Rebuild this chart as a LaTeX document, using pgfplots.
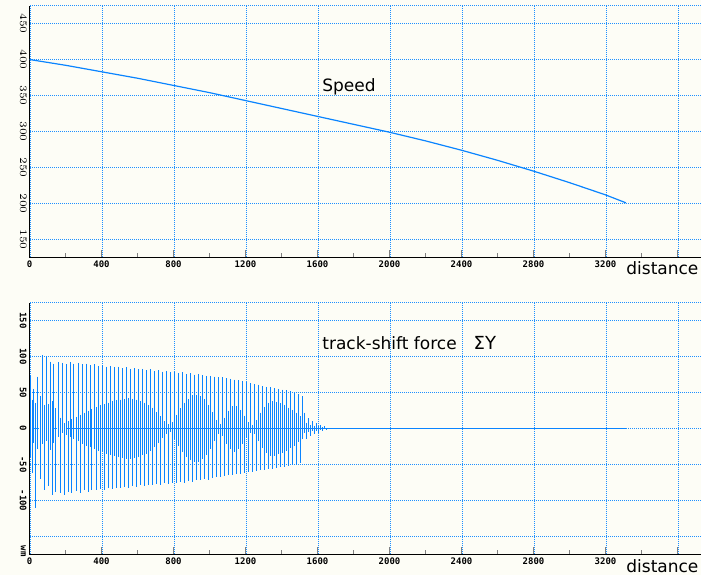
\documentclass[border=0pt]{standalone}
\usepackage{pgfplots}
\pgfplotsset{compat=1.18}
\usepackage{fontspec}
\setmainfont{DejaVu Sans}
\newfontfamily\tickfont{DejaVu Sans Mono Bold}
\definecolor{bgcol}{RGB}{253,253,246}
\definecolor{gridblue}{RGB}{30,144,255}
\definecolor{lineblue}{RGB}{10,132,255}

% 1px = 0.5pt; 400 distance = 72px, 50 units of y = 36px
\pgfplotsset{
  rail/.style={
    scale only axis, width=335.75pt, height=126pt, anchor=south west,
    xmin=0, xmax=3730.56,
    axis x line*=bottom, axis y line*=left,
    axis line style={line width=0.5pt, black},
    xtick={0,400,...,3600},
    xticklabels={0,400,800,1200,1600,2000,2400,2800,3200,{}},
    minor x tick num=1,
    tick align=inside,
    major tick length=3.9pt, minor tick length=2.2pt,
    xtick style={line width=0.5pt},
    ytick style={draw=none},
    grid=major,
    major grid style={line width=0.5pt, draw=gridblue, dash pattern=on 0.5pt off 0.5pt,
      xshift=0.25pt, yshift=0.25pt},
    tick label style={font=\tickfont\fontsize{4.5}{5}\selectfont},
    xticklabel style={inner sep=1.3pt},
    yticklabel style={rotate=-90, anchor=north, inner sep=1.3pt},
    extra y tick labels={},
    extra y tick style={grid=major},
  },
}

\begin{document}
\begin{tikzpicture}
\fill[bgcol] (0,0) rectangle (350.5pt,287.5pt);
\useasboundingbox (0,0) rectangle (350.5pt,287.5pt);

% speed
\begin{axis}[rail, at={(14.75pt,158.75pt)},
  ymin=125, ymax=475, ytick={150,200,...,450}, extra y ticks={475}]
\addplot[lineblue, line width=0.6pt] coordinates {
  (0,400) (200,392) (400,383) (600,374) (800,364) (1000,354) (1200,343)
  (1400,332) (1600,321) (1800,310) (2000,299) (2200,287) (2400,274)
  (2600,260) (2800,245) (3000,229) (3200,212) (3313,201)
};
\end{axis}

% track-shift force
\begin{axis}[rail, at={(14.75pt,10.25pt)},
  ymin=-175, ymax=175, ytick={-150,-100,...,150},
  yticklabels={{},-100,-50,0,50,100,150}, extra y ticks={175}]
\addplot[lineblue, line width=0.5pt] coordinates {(200,0) (3313,0)};
\addplot[lineblue, line width=0.5pt, xshift=0.25pt, unbounded coords=jump] coordinates {
(0,75)(0,-40)(0,nan) (11.11,40)(11.11,-62)(11.11,nan) (22.22,55)(22.22,-20)(22.22,nan) (33.33,35)(33.33,-110)(33.33,nan) (44.44,72)(44.44,-28)(44.44,nan) (55.56,45)(55.56,-70)(55.56,nan) (66.67,102)(66.67,-22)(66.67,nan) (77.78,32)(77.78,-86)(77.78,nan) (88.89,101)(88.89,-18)(88.89,nan)
(100,34)(100,-80)(100,nan) (111.11,93)(111.11,-30)(111.11,nan) (122.22,38)(122.22,-92)(122.22,nan) (133.33,90)(133.33,-20)(133.33,nan) (144.44,28)(144.44,-88)(144.44,nan) (155.56,92)(155.56,-12)(155.56,nan) (166.67,15)(166.67,-90)(166.67,nan) (177.78,91)(177.78,-6)(177.78,nan) (188.89,7)(188.89,-92)(188.89,nan)
(200,89)(200,-9)(200,nan) (211.11,10)(211.11,-88)(211.11,nan) (222.22,92)(222.22,-12)(222.22,nan) (233.33,13)(233.33,-90)(233.33,nan) (244.44,90)(244.44,-15)(244.44,nan) (255.56,16)(255.56,-87)(255.56,nan) (266.67,91)(266.67,-18)(266.67,nan) (277.78,19)(277.78,-89)(277.78,nan) (288.89,89)(288.89,-21)(288.89,nan)
(300,22)(300,-86)(300,nan) (311.11,90)(311.11,-24)(311.11,nan) (322.22,25)(322.22,-88)(322.22,nan) (333.33,88)(333.33,-26)(333.33,nan) (344.44,27)(344.44,-85)(344.44,nan) (355.56,89)(355.56,-28)(355.56,nan) (366.67,30)(366.67,-86)(366.67,nan) (377.78,87)(377.78,-31)(377.78,nan) (388.89,32)(388.89,-84)(388.89,nan)
(400,88)(400,-33)(400,nan) (411.11,34)(411.11,-85)(411.11,nan) (422.22,86)(422.22,-35)(422.22,nan) (433.33,36)(433.33,-83)(433.33,nan) (444.44,87)(444.44,-37)(444.44,nan) (455.56,38)(455.56,-84)(455.56,nan) (466.67,85)(466.67,-38)(466.67,nan) (477.78,39)(477.78,-82)(477.78,nan) (488.89,86)(488.89,-40)(488.89,nan)
(500,40)(500,-83)(500,nan) (511.11,84)(511.11,-41)(511.11,nan) (522.22,41)(522.22,-81)(522.22,nan) (533.33,85)(533.33,-42)(533.33,nan) (544.44,42)(544.44,-82)(544.44,nan) (555.56,83)(555.56,-42)(555.56,nan) (566.67,41)(566.67,-80)(566.67,nan) (577.78,84)(577.78,-41)(577.78,nan) (588.89,40)(588.89,-81)(588.89,nan)
(600,82)(600,-39)(600,nan) (611.11,38)(611.11,-79)(611.11,nan) (622.22,83)(622.22,-37)(622.22,nan) (633.33,36)(633.33,-80)(633.33,nan) (644.44,81)(644.44,-35)(644.44,nan) (655.56,33)(655.56,-78)(655.56,nan) (666.67,82)(666.67,-31)(666.67,nan) (677.78,29)(677.78,-79)(677.78,nan) (688.89,80)(688.89,-26)(688.89,nan)
(700,23)(700,-77)(700,nan) (711.11,81)(711.11,-20)(711.11,nan) (722.22,17)(722.22,-78)(722.22,nan) (733.33,79)(733.33,-13)(733.33,nan) (744.44,10)(744.44,-76)(744.44,nan) (755.56,80)(755.56,-7)(755.56,nan) (766.67,6)(766.67,-77)(766.67,nan) (777.78,78)(777.78,-5)(777.78,nan) (788.89,9)(788.89,-75)(788.89,nan)
(800,79)(800,-14)(800,nan) (811.11,19)(811.11,-76)(811.11,nan) (822.22,77)(822.22,-24)(822.22,nan) (833.33,28)(833.33,-74)(833.33,nan) (844.44,78)(844.44,-32)(844.44,nan) (855.56,36)(855.56,-75)(855.56,nan) (866.67,76)(866.67,-39)(866.67,nan) (877.78,41)(877.78,-73)(877.78,nan) (888.89,77)(888.89,-44)(888.89,nan)
(900,46)(900,-74)(900,nan) (911.11,75)(911.11,-46)(911.11,nan) (922.22,47)(922.22,-72)(922.22,nan) (933.33,76)(933.33,-46)(933.33,nan) (944.44,45)(944.44,-72)(944.44,nan) (955.56,74)(955.56,-43)(955.56,nan) (966.67,41)(966.67,-70)(966.67,nan) (977.78,73)(977.78,-37)(977.78,nan) (988.89,33)(988.89,-71)(988.89,nan)
(1000,73)(1000,-28)(1000,nan) (1011.11,23)(1011.11,-69)(1011.11,nan) (1022.22,72)(1022.22,-17)(1022.22,nan) (1033.33,12)(1033.33,-68)(1033.33,nan) (1044.44,71)(1044.44,-8)(1044.44,nan) (1055.56,6)(1055.56,-67)(1055.56,nan) (1066.67,71)(1066.67,-10)(1066.67,nan) (1077.78,15)(1077.78,-66)(1077.78,nan) (1088.89,70)(1088.89,-21)(1088.89,nan)
(1100,25)(1100,-65)(1100,nan) (1111.11,69)(1111.11,-29)(1111.11,nan) (1122.22,31)(1122.22,-64)(1122.22,nan) (1133.33,68)(1133.33,-32)(1133.33,nan) (1144.44,31)(1144.44,-63)(1144.44,nan) (1155.56,67)(1155.56,-29)(1155.56,nan) (1166.67,26)(1166.67,-63)(1166.67,nan) (1177.78,66)(1177.78,-22)(1177.78,nan) (1188.89,18)(1188.89,-62)(1188.89,nan)
(1200,64)(1200,-13)(1200,nan) (1211.11,9)(1211.11,-61)(1211.11,nan) (1222.22,63)(1222.22,-6)(1222.22,nan) (1233.33,5)(1233.33,-60)(1233.33,nan) (1244.44,62)(1244.44,-8)(1244.44,nan) (1255.56,12)(1255.56,-59)(1255.56,nan) (1266.67,61)(1266.67,-17)(1266.67,nan) (1277.78,22)(1277.78,-58)(1277.78,nan) (1288.89,59)(1288.89,-27)(1288.89,nan)
(1300,30)(1300,-57)(1300,nan) (1311.11,58)(1311.11,-34)(1311.11,nan) (1322.22,36)(1322.22,-56)(1322.22,nan) (1333.33,57)(1333.33,-38)(1333.33,nan) (1344.44,38)(1344.44,-56)(1344.44,nan) (1355.56,56)(1355.56,-38)(1355.56,nan) (1366.67,37)(1366.67,-55)(1366.67,nan) (1377.78,55)(1377.78,-36)(1377.78,nan) (1388.89,35)(1388.89,-54)(1388.89,nan)
(1400,54)(1400,-34)(1400,nan) (1411.11,33)(1411.11,-53)(1411.11,nan) (1422.22,53)(1422.22,-31)(1422.22,nan) (1433.33,29)(1433.33,-52)(1433.33,nan) (1444.44,52)(1444.44,-27)(1444.44,nan) (1455.56,26)(1455.56,-51)(1455.56,nan) (1466.67,50)(1466.67,-24)(1466.67,nan) (1477.78,22)(1477.78,-50)(1477.78,nan) (1488.89,48)(1488.89,-19)(1488.89,nan)
(1500,17)(1500,-48)(1500,nan) (1511.11,45)(1511.11,-14)(1511.11,nan) (1522.22,22)(1522.22,-6)(1522.22,nan) (1533.33,8)(1533.33,-14)(1533.33,nan) (1544.44,14)(1544.44,-5)(1544.44,nan) (1555.56,5)(1555.56,-10)(1555.56,nan) (1566.67,10)(1566.67,-4)(1566.67,nan) (1577.78,4)(1577.78,-8)(1577.78,nan) (1588.89,7)(1588.89,-3)(1588.89,nan)
(1600,3)(1600,-6)(1600,nan) (1611.11,5)(1611.11,-2)(1611.11,nan) (1622.22,2)(1622.22,-4)(1622.22,nan) (1633.33,3)(1633.33,-1)(1633.33,nan) (1644.44,1)(1644.44,-2)(1644.44,nan)
};
\end{axis}

\node[anchor=base west, inner sep=0, font=\fontsize{8.5}{10}\selectfont] at (161pt,242pt) {Speed};
\node[anchor=base west, inner sep=0, font=\fontsize{8.5}{10}\selectfont] at (161pt,112.75pt) {track-shift force\hspace{8.5pt}{\fontsize{9}{11}\selectfont ΣY}};
\node[anchor=base west, inner sep=0, font=\fontsize{8.5}{10}\selectfont] at (313pt,150.4pt) {distance};
\node[anchor=base west, inner sep=0, font=\fontsize{8.5}{10}\selectfont] at (313pt,1.3pt) {distance};
\node[rotate=-90, inner sep=0, font=\tickfont\fontsize{4.5}{5}\selectfont] at (11.65pt,12pt) {wm};
\end{tikzpicture}
\end{document}
